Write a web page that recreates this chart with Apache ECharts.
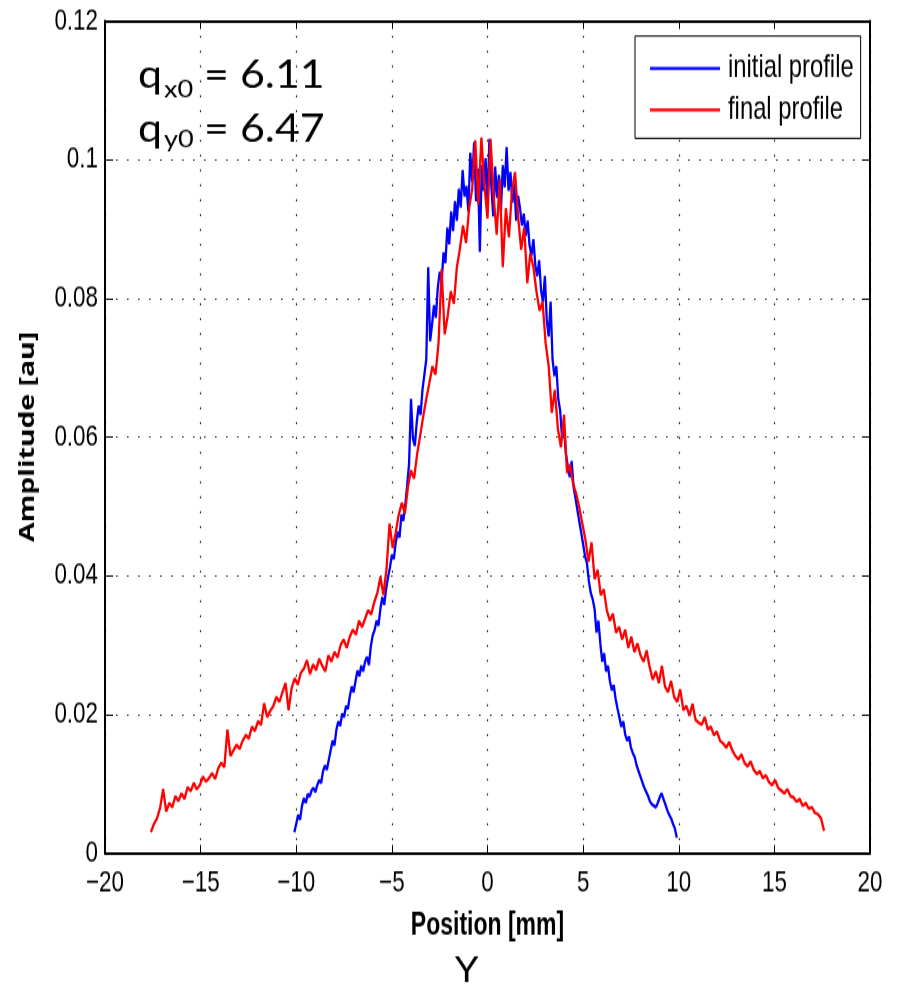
<!DOCTYPE html>
<html>
<head>
<meta charset="utf-8">
<script src="https://cdn.jsdelivr.net/npm/echarts@6/dist/echarts.min.js"></script>
<style>
html,body{margin:0;padding:0;background:#fff;overflow:hidden}
#wrap{width:898px;height:986px;overflow:hidden;position:relative}
#c{width:898px;height:730px;transform-origin:0 0;transform:scaleY(1.350685)}
</style>
</head>
<body>
<div id="wrap"><div id="c"></div></div>
<script>
// x-axis ticks (Position [mm]) and y-axis ticks (Amplitude [au])
var xTicks = [-20, -15, -10, -5, 0, 5, 10, 15, 20];
var yTicks = [0, 0.02, 0.04, 0.06, 0.08, 0.1, 0.12];
var seriesNames = ['initial profile', 'final profile'];
var annotations = { qx0: '6.11', qy0: '6.47' };

// initial profile: sampled from -10.1 mm every 0.1 mm
var initialStart = -10.1, initialStep = 0.1;
var initialProfile = [
 0.0030,0.0042,0.0055,0.0048,0.0068,0.0079,0.0072,0.0085,0.0081,0.0090,
 0.0094,0.0088,0.0098,0.0105,0.0101,0.0118,0.0126,0.0120,0.0134,0.0148,
 0.0162,0.0155,0.0178,0.0190,0.0183,0.0201,0.0196,0.0212,0.0208,0.0226,
 0.0240,0.0232,0.0248,0.0263,0.0255,0.0270,0.0262,0.0276,0.0283,0.0271,
 0.0298,0.0314,0.0322,0.0335,0.0328,0.0352,0.0369,0.0358,0.0381,0.0398,
 0.0412,0.0430,0.0424,0.0447,0.0463,0.0455,0.0488,0.0479,0.0502,0.0530,
 0.0562,0.0655,0.0598,0.0587,0.0621,0.0645,0.0632,0.0668,0.0690,0.0712,
 0.0845,0.0738,0.0762,0.0790,0.0772,0.0815,0.0838,0.0822,0.0866,0.0851,
 0.0902,0.0878,0.0925,0.0897,0.0940,0.0912,0.0958,0.0931,0.0985,0.0947,
 0.0962,0.0925,0.1010,0.0968,0.1025,0.0940,0.0987,0.0867,0.0992,0.0955,
 0.1002,0.0935,0.1030,0.0962,0.0918,0.0990,0.0945,0.0978,0.0925,0.0992,
 0.0960,0.1018,0.0955,0.0982,0.0938,0.0965,0.0912,0.0948,0.0930,0.0905,
 0.0922,0.0890,0.0912,0.0876,0.0862,0.0885,0.0848,0.0832,0.0855,0.0812,
 0.0795,0.0832,0.0768,0.0745,0.0795,0.0712,0.0688,0.0702,0.0655,0.0638,
 0.0598,0.0612,0.0575,0.0558,0.0542,0.0565,0.0528,0.0512,0.0495,0.0478,
 0.0462,0.0445,0.0428,0.0418,0.0392,0.0375,0.0366,0.0352,0.0318,0.0335,
 0.0302,0.0276,0.0288,0.0262,0.0270,0.0248,0.0235,0.0242,0.0222,0.0208,
 0.0195,0.0182,0.0190,0.0171,0.0162,0.0168,0.0152,0.0144,0.0138,0.0126,
 0.0118,0.0110,0.0102,0.0094,0.0088,0.0082,0.0074,0.0070,0.0068,0.0066,
 0.0072,0.0080,0.0086,0.0078,0.0070,0.0062,0.0055,0.0050,0.0042,0.0035,0.0022
];

// final profile: sampled from -17.6 mm every 0.16 mm
var finalStart = -17.6, finalStep = 0.16;
var finalProfile = [
 0.0030,0.0042,0.0050,0.0065,0.0092,0.0060,0.0072,0.0066,0.0082,0.0075,
 0.0086,0.0078,0.0095,0.0089,0.0101,0.0092,0.0098,0.0110,0.0103,0.0108,
 0.0115,0.0107,0.0122,0.0130,0.0124,0.0178,0.0140,0.0148,0.0156,0.0150,
 0.0162,0.0170,0.0165,0.0182,0.0176,0.0190,0.0185,0.0216,0.0196,0.0205,
 0.0212,0.0225,0.0218,0.0232,0.0245,0.0206,0.0238,0.0252,0.0243,0.0260,
 0.0266,0.0278,0.0258,0.0272,0.0264,0.0280,0.0270,0.0262,0.0285,0.0276,
 0.0290,0.0282,0.0300,0.0308,0.0296,0.0312,0.0322,0.0315,0.0335,0.0326,
 0.0338,0.0350,0.0344,0.0362,0.0375,0.0398,0.0372,0.0410,0.0475,0.0440,
 0.0462,0.0488,0.0505,0.0490,0.0528,0.0552,0.0540,0.0575,0.0602,0.0630,
 0.0655,0.0678,0.0702,0.0690,0.0735,0.0842,0.0748,0.0775,0.0810,0.0792,
 0.0845,0.0872,0.0905,0.0880,0.0930,0.0958,0.1028,0.0935,0.1032,0.0962,
 0.0915,0.1030,0.0948,0.0892,0.0972,0.0845,0.0930,0.0888,0.0955,0.0982,
 0.0918,0.0870,0.0902,0.0822,0.0865,0.0845,0.0810,0.0782,0.0795,0.0735,
 0.0702,0.0635,0.0668,0.0612,0.0585,0.0632,0.0548,0.0560,0.0532,0.0518,
 0.0498,0.0475,0.0452,0.0420,0.0448,0.0395,0.0408,0.0372,0.0380,0.0350,
 0.0335,0.0345,0.0318,0.0326,0.0308,0.0322,0.0296,0.0312,0.0290,0.0302,
 0.0285,0.0276,0.0292,0.0268,0.0250,0.0262,0.0245,0.0270,0.0240,0.0232,
 0.0248,0.0225,0.0218,0.0236,0.0206,0.0212,0.0198,0.0215,0.0192,0.0188,
 0.0185,0.0196,0.0178,0.0182,0.0170,0.0175,0.0162,0.0158,0.0152,0.0160,
 0.0148,0.0140,0.0135,0.0142,0.0130,0.0125,0.0132,0.0120,0.0114,0.0118,
 0.0108,0.0112,0.0102,0.0098,0.0105,0.0094,0.0090,0.0086,0.0092,0.0082,
 0.0080,0.0074,0.0078,0.0068,0.0072,0.0064,0.0066,0.0058,0.0056,0.0050,
 0.0032
];

function pairs(start, step, ys) {
  return ys.map(function (v, i) { return [+(start + i * step).toFixed(3), v]; });
}

var S = 986 / 730;           // vertical stretch of the plotted figure
var inv = 1 / S;
var sans = '"Liberation Sans", Arial, sans-serif';
var xMin = xTicks[0], xMax = xTicks[xTicks.length - 1], xInt = xTicks[1] - xTicks[0];
var yMin = yTicks[0], yMax = yTicks[yTicks.length - 1], yInt = yTicks[1] - yTicks[0];

var xLine = { show: true, onZero: false, lineStyle: { color: '#000', width: 2 } };
var yLine = { show: true, onZero: false, lineStyle: { color: '#000', width: 2 } };
var xTick = { show: true, inside: true, length: 6, lineStyle: { color: '#000', width: 1 } };
var yTick = { show: true, inside: true, length: 8, lineStyle: { color: '#000', width: 1 } };
var dotted = { show: true, lineStyle: { color: '#222', width: 1.2, type: [1.6, 9.4] } };

function fmtX(v) { return v < 0 ? '\u2212' + Math.abs(v) : String(v); }
function fmtY(v) { return String(+v.toFixed(2)); }

var qFont = '38px Lato, "Open Sans", sans-serif';
var subFont = '24px Lato, "Open Sans", sans-serif';
var sx = 1.13;

var chart = echarts.init(document.getElementById('c'), null, { renderer: 'canvas' });
chart.setOption({
  animation: false,
  backgroundColor: '#fff',
  grid: { left: 105, right: 28, top: 15.5, bottom: 98.5, containLabel: false },
  legend: {
    data: seriesNames,
    orient: 'vertical',
    left: 635, top: 26.7,
    padding: [12, 7, 9, 15],
    itemGap: 6.7,
    itemWidth: 70, itemHeight: 2.2,
    icon: 'rect',
    backgroundColor: '#fff',
    borderColor: '#000', borderWidth: 1, borderRadius: 0,
    textStyle: { fontFamily: sans, fontSize: 23.8, color: '#000', lineHeight: 20, padding: [0, 0, 0, 3] }
  },
  xAxis: [{
    type: 'value', min: xMin, max: xMax, interval: xInt, position: 'bottom',
    axisLine: xLine, axisTick: xTick, splitLine: dotted,
    axisLabel: { fontFamily: sans, fontSize: 22.4, color: '#000', margin: 11, formatter: fmtX },
    name: 'Position [mm]', nameLocation: 'middle', nameGap: 43,
    nameTextStyle: { fontFamily: sans, fontWeight: 'bold', fontSize: 23, color: '#000' }
  }, {
    type: 'value', min: xMin, max: xMax, interval: xInt, position: 'top',
    axisLine: xLine, axisTick: xTick, splitLine: { show: false }, axisLabel: { show: false }
  }],
  yAxis: [{
    type: 'value', min: yMin, max: yMax, interval: yInt, position: 'left',
    axisLine: yLine, axisTick: yTick, splitLine: dotted,
    axisLabel: { fontFamily: sans, fontSize: 22.4, color: '#000', margin: 7, formatter: fmtY },
    name: 'Amplitude [au]', nameLocation: 'middle', nameGap: 66, nameRotate: 90,
    nameTextStyle: { fontFamily: '"Open Sans", "Liberation Sans", sans-serif', fontWeight: 'bold', fontSize: 21, color: '#000' }
  }, {
    type: 'value', min: yMin, max: yMax, interval: yInt, position: 'right',
    axisLine: yLine, axisTick: yTick, splitLine: { show: false }, axisLabel: { show: false }
  }],
  series: [{
    name: seriesNames[0], type: 'line', showSymbol: false, symbol: 'none',
    data: pairs(initialStart, initialStep, initialProfile),
    lineStyle: { color: '#0000ff', width: 2.3 }, itemStyle: { color: '#0000ff' }, z: 2
  }, {
    name: seriesNames[1], type: 'line', showSymbol: false, symbol: 'none',
    data: pairs(finalStart, finalStep, finalProfile),
    lineStyle: { color: '#ff0000', width: 2.3 }, itemStyle: { color: '#ff0000' }, z: 3
  }],
  graphic: [
    { type: 'text', x: 138, y: 57 * inv, scaleX: sx, scaleY: inv, style: { text: 'q', font: qFont, fill: '#000', verticalAlign: 'top' } },
    { type: 'text', x: 164, y: 77.5 * inv, scaleX: sx, scaleY: inv, style: { text: 'x0', font: subFont, fill: '#000', verticalAlign: 'top' } },
    { type: 'text', x: 204, y: 57 * inv, scaleX: sx, scaleY: inv, style: { text: '= ' + annotations.qx0, font: qFont, fill: '#000', verticalAlign: 'top' } },
    { type: 'text', x: 138, y: 110 * inv, scaleX: sx, scaleY: inv, style: { text: 'q', font: qFont, fill: '#000', verticalAlign: 'top' } },
    { type: 'text', x: 164, y: 128 * inv, scaleX: sx, scaleY: inv, style: { text: 'y0', font: subFont, fill: '#000', verticalAlign: 'top' } },
    { type: 'text', x: 204, y: 110 * inv, scaleX: sx, scaleY: inv, style: { text: '= ' + annotations.qy0, font: qFont, fill: '#000', verticalAlign: 'top' } },
    { type: 'text', x: 454, y: 952 * inv, scaleY: inv, style: { text: 'Y', font: '38px "Liberation Sans", Arial, sans-serif', fill: '#000', verticalAlign: 'top' } }
  ]
});
</script>
</body>
</html>
